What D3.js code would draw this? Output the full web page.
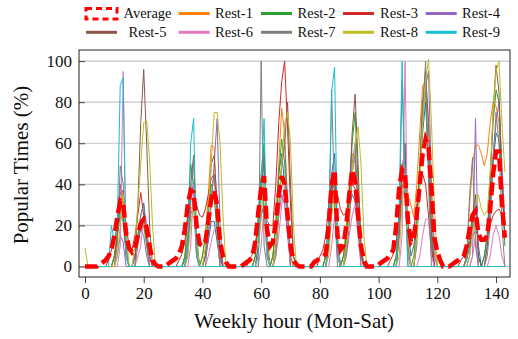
<!DOCTYPE html>
<html>
<head>
<meta charset="utf-8">
<script src="https://cdn.jsdelivr.net/npm/d3@7"></script>
<style>
  body { margin: 0; background: #fff; }
  svg text { font-family: "Liberation Serif", "Times New Roman", serif; fill: #111; }
</style>
</head>
<body>
<svg id="chart" width="518" height="339"></svg>
<script>
// weekly hours, Mon 00:00 .. Sat 23:00
const hours = d3.range(144);
const xTicks = [0, 20, 40, 60, 80, 100, 120, 140];
const yTicks = [0, 20, 40, 60, 80, 100];

// one row per day (24 values)
const average = [
  0,0,0,0,0,1,2,3,5,8,15,24,32,31,16,9,7,9,15,21,23,19,10,3,
  1,0,0,0,1,2,3,4,6,10,18,30,37,36,20,11,10,12,22,33,37,30,12,5,
  2,0,0,0,0,0,1,2,3,5,12,26,38,44,18,10,12,22,35,44,40,25,10,3,
  1,0,0,0,0,0,2,3,4,5,6,20,40,47,15,8,10,20,35,47,42,25,10,3,
  0,0,0,0,1,2,3,4,6,8,20,38,47,45,22,12,14,25,40,55,62,58,38,14,
  7,3,0,0,0,1,2,3,4,5,10,18,25,27,16,13,13,15,28,45,56,56,30,14
];
const rest0 = [
  0,0,0,0,0,0,0,0,0,0,5,15,25,22,8,0,0,5,15,25,31,18,5,0,
  0,0,0,0,0,0,0,0,0,0,3,15,35,40,12,0,0,5,12,22,22,12,3,0,
  0,0,0,0,0,0,0,0,0,0,5,20,40,50,15,0,5,20,45,55,40,20,5,0,
  0,0,0,0,0,0,0,0,0,0,5,20,45,55,15,0,5,15,28,35,32,18,5,0,
  0,0,0,0,0,0,0,0,0,0,5,25,45,60,20,5,10,25,45,65,80,50,15,0,
  0,0,0,0,0,0,0,0,0,0,3,10,20,30,10,0,5,15,30,50,65,62,40,20
];
const rest1 = [
  0,0,0,0,0,0,0,0,0,0,5,18,30,37,15,0,0,5,12,20,22,12,0,0,
  0,0,0,0,0,0,0,0,0,0,5,15,28,30,10,0,5,15,35,59,58,25,5,0,
  0,0,0,0,0,0,0,0,0,0,5,20,35,30,10,0,5,20,50,77,65,30,5,0,
  0,0,0,0,0,0,0,0,0,0,5,20,40,38,12,0,5,20,40,55,50,25,5,0,
  0,0,0,0,0,0,0,0,0,0,5,20,45,50,35,30,24,40,65,88,90,70,35,10,
  0,0,0,0,0,0,0,0,0,0,5,30,50,59,59,55,49,55,70,80,78,70,45,25
];
const rest2 = [
  0,0,0,0,0,0,0,0,0,0,5,15,30,25,5,0,0,5,15,22,20,10,0,0,
  0,0,0,0,0,0,0,0,0,0,5,25,50,40,5,0,5,15,30,40,35,15,0,0,
  0,0,0,0,0,0,0,0,0,0,5,25,45,60,10,0,5,20,45,62,50,20,0,0,
  0,0,0,0,0,0,0,0,0,0,5,20,40,42,5,0,5,15,35,60,75,40,10,0,
  0,0,0,0,0,0,0,0,0,0,5,25,50,45,10,0,5,20,50,80,85,50,10,0,
  0,0,0,0,0,0,0,0,0,0,5,15,25,30,5,0,5,15,45,70,86,80,40,10
];
const rest3 = [
  0,0,0,0,0,0,0,0,3,8,12,20,36,37,20,10,8,15,25,36,25,15,5,0,
  0,0,0,0,0,0,0,0,3,6,12,25,38,35,30,25,24,28,35,43,45,30,10,0,
  0,0,0,0,0,0,0,0,3,6,12,18,25,30,22,20,20,40,70,90,100,67,30,5,
  0,0,0,0,0,0,0,0,5,8,15,30,40,38,35,28,25,26,35,40,38,20,5,0,
  0,0,0,0,0,0,0,0,3,6,12,25,40,35,20,15,18,30,40,45,40,25,8,0,
  0,0,0,0,0,0,0,0,3,5,8,12,15,17,15,14,13,14,20,25,27,28,25,18
];
const rest4 = [
  0,0,0,0,0,0,0,0,0,0,0,5,15,12,0,0,0,5,12,18,15,5,0,0,
  0,0,0,0,0,0,0,0,0,0,0,10,25,30,5,0,0,5,15,30,50,72,20,0,
  0,0,0,0,0,0,0,0,0,0,0,10,25,30,5,0,0,10,25,35,30,15,0,0,
  0,0,0,0,0,0,0,0,0,0,0,10,30,35,5,0,0,10,30,50,60,30,5,0,
  0,0,0,0,0,0,0,0,0,0,0,15,35,40,5,0,0,15,40,70,88,95,40,5,
  0,0,0,0,0,0,0,0,0,0,0,0,5,72,0,0,0,10,30,55,70,80,50,20
];
const rest5 = [
  0,0,0,0,0,0,0,0,0,0,0,15,40,30,5,0,0,0,30,70,96,60,20,0,
  0,0,0,0,0,0,0,0,0,0,0,10,40,54,15,0,0,5,25,50,54,30,5,0,
  0,0,0,0,0,0,0,0,0,0,0,10,35,55,10,0,0,10,30,50,60,80,40,5,
  0,0,0,0,0,0,0,0,0,0,0,10,35,45,10,0,0,10,35,65,84,50,10,0,
  0,0,0,0,0,0,0,0,0,0,0,15,45,60,10,0,0,15,45,80,95,70,20,0,
  0,0,0,0,0,0,0,0,0,0,0,5,25,35,5,0,0,10,40,75,98,85,40,15
];
const rest6 = [
  0,0,0,0,0,0,0,0,0,0,0,0,10,95,5,0,0,0,5,10,25,22,0,0,
  0,0,0,0,0,0,0,0,0,0,0,0,10,40,5,0,0,0,5,12,18,18,0,0,
  0,0,0,0,0,0,0,0,0,0,0,0,10,30,5,0,0,5,15,30,40,20,0,0,
  0,0,0,0,0,0,0,0,0,0,0,0,10,25,5,0,0,5,15,25,30,15,0,0,
  0,0,0,0,0,0,0,0,0,0,0,0,15,100,5,0,0,0,5,15,23,23,5,0,
  0,0,0,0,0,0,0,0,0,0,0,0,5,15,0,0,0,0,5,15,20,15,5,0
];
const rest7 = [
  0,0,0,0,0,0,0,0,0,0,0,10,49,40,10,0,0,0,10,25,30,15,0,0,
  0,0,0,0,0,0,0,0,0,0,0,5,30,53,10,0,0,0,15,35,45,20,0,0,
  0,0,0,0,0,0,0,0,0,0,0,0,100,10,0,0,0,5,25,50,60,30,0,0,
  0,0,0,0,0,0,0,0,0,0,0,10,86,30,0,0,0,5,20,45,55,25,0,0,
  0,0,0,0,0,0,0,0,0,0,0,20,90,40,0,0,0,10,40,75,100,40,0,0,
  0,0,0,0,0,0,0,0,0,0,5,35,53,10,0,0,0,5,20,50,75,60,20,0
];
const rest8 = [
  9,0,0,0,0,0,0,0,0,0,0,5,20,35,15,0,0,10,30,50,70,71,52,20,
  0,0,0,0,0,0,0,0,0,0,0,5,20,30,15,0,0,10,30,50,75,75,60,25,
  0,0,0,0,0,0,0,0,0,0,0,5,25,40,15,0,0,10,30,50,70,75,60,20,
  0,0,0,0,0,0,0,0,0,0,0,5,25,35,15,0,0,10,25,45,60,68,50,15,
  0,0,0,0,0,0,0,0,0,0,0,5,30,45,15,0,0,15,40,70,90,101,70,30,
  0,0,0,0,0,0,0,0,0,0,0,5,15,30,35,28,25,27,45,75,95,100,70,46
];
const rest9 = [
  0,0,0,0,0,0,0,0,0,20,12,20,88,92,5,0,0,0,0,0,0,0,0,0,
  0,0,0,0,0,0,0,0,0,0,0,10,60,72,5,0,0,0,0,0,0,0,0,0,
  0,0,0,0,0,0,0,0,0,0,0,5,40,72,5,0,0,0,0,0,0,0,0,0,
  0,0,0,0,0,0,0,0,0,0,0,20,85,97,10,0,0,0,0,0,0,0,0,0,
  0,0,0,0,0,0,0,0,0,0,0,30,100,40,0,0,0,0,0,0,0,0,0,0,
  0,0,0,0,0,0,0,0,0,0,0,0,0,0,0,0,0,0,0,0,0,0,0,0
];

const restNames = ["Rest-0", "Rest-1", "Rest-2", "Rest-3", "Rest-4", "Rest-5", "Rest-6", "Rest-7", "Rest-8", "Rest-9"];
const restValues = [rest0, rest1, rest2, rest3, rest4, rest5, rest6, rest7, rest8, rest9];
const colors = d3.schemeCategory10;

const svg = d3.select("#chart");
const x = d3.scaleLinear().domain([-2.04, 144.75]).range([79, 510]);
const y = d3.scaleLinear().domain([-5.1, 105.4]).range([277, 50]);

// grid
svg.append("g")
  .selectAll("line")
  .data(yTicks)
  .join("line")
  .attr("x1", 79).attr("x2", 510)
  .attr("y1", d => y(d)).attr("y2", d => y(d))
  .attr("stroke", "#c4c4c4")
  .attr("stroke-width", 1.2);

// axes
const xAxis = svg.append("g")
  .attr("transform", "translate(0,277)")
  .call(d3.axisBottom(x).tickValues(xTicks).tickSize(6).tickPadding(4));
const yAxis = svg.append("g")
  .attr("transform", "translate(79,0)")
  .call(d3.axisLeft(y).tickValues(yTicks).tickSize(-6).tickPadding(7));
[xAxis, yAxis].forEach(g => {
  g.select(".domain").remove();
  g.selectAll("line").attr("stroke", "#444");
  g.selectAll("text")
    .attr("fill", "#111")
    .style("font-size", "17px")
    .style("font-family", "'Liberation Serif', serif");
});

// series
const line = d3.line()
  .x((d, i) => x(hours[i]))
  .y(d => y(d));

svg.append("g")
  .selectAll("path")
  .data(restValues)
  .join("path")
  .attr("d", d => line(d))
  .attr("fill", "none")
  .attr("stroke", (d, i) => colors[i])
  .attr("stroke-width", 1)
  .attr("stroke-linejoin", "round");

svg.append("path")
  .attr("d", line(average))
  .attr("fill", "none")
  .attr("stroke", "#ff0000")
  .attr("stroke-width", 4.5)
  .attr("stroke-dasharray", "13,5");

// frame
svg.append("rect")
  .attr("x", 79).attr("y", 50)
  .attr("width", 431).attr("height", 227)
  .attr("fill", "none")
  .attr("stroke", "#222")
  .attr("stroke-width", 1);

// axis titles
svg.append("text")
  .attr("x", 294).attr("y", 328)
  .attr("text-anchor", "middle")
  .style("font-size", "21px")
  .text("Weekly hour (Mon-Sat)");
svg.append("text")
  .attr("transform", "translate(28,165) rotate(-90)")
  .attr("text-anchor", "middle")
  .style("font-size", "21px")
  .text("Popular Times (%)");

// legend
const legendItems = ["Average"].concat(restNames.slice(1));
const legendLineX = [86, 178.7, 261, 343, 425.7];
const legendTextX = [147.5, 234, 316.5, 399, 481];
const legendRowY = [13.5, 32.3];
const legend = svg.append("g");
legendItems.forEach((name, k) => {
  const col = k % 5, row = Math.floor(k / 5);
  const lx = legendLineX[col], ly = legendRowY[row];
  if (k === 0) {
    legend.append("rect")
      .attr("x", lx).attr("y", ly - 5)
      .attr("width", 31).attr("height", 10.5)
      .attr("fill", "none")
      .attr("stroke", "#ff0000")
      .attr("stroke-width", 3)
      .attr("stroke-dasharray", "6,4");
  } else {
    legend.append("line")
      .attr("x1", lx).attr("x2", lx + 31)
      .attr("y1", ly).attr("y2", ly)
      .attr("stroke", colors[k])
      .attr("stroke-width", 3);
  }
  legend.append("text")
    .attr("x", legendTextX[col]).attr("y", ly + 4.8)
    .attr("text-anchor", "middle")
    .style("font-size", "14.5px")
    .text(name);
});
</script>
</body>
</html>
